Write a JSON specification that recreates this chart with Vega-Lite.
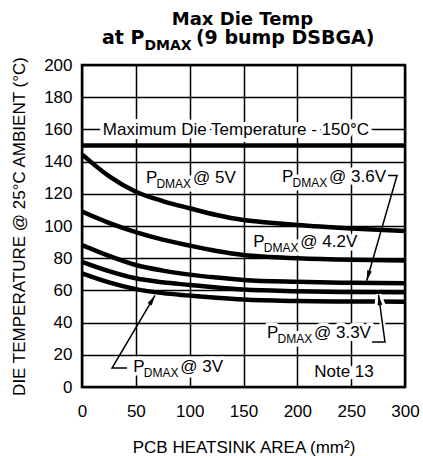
{
  "$schema": "https://vega.github.io/schema/vega-lite/v6.json",
  "width": 323,
  "height": 322,
  "autosize": {"type": "none"},
  "padding": {"left": 82, "top": 65, "right": 18, "bottom": 69},
  "background": "white",
  "config": {
    "view": {"stroke": "black", "strokeWidth": 2.5},
    "axis": {"grid": true, "gridColor": "black", "gridWidth": 1.5, "gridOpacity": 1, "ticks": false, "tickSize": 0, "domain": false, "labelFont": "Liberation Sans", "labelFontSize": 17, "labelColor": "black", "labelFlush": false, "labelOverlap": false, "titleFont": "Liberation Sans", "titleFontSize": 17, "titleFontWeight": "normal", "titleColor": "black"}
  },
  "datasets": {
    "curves": [
      {"series": "Max", "area": 0, "temp": 150}, {"series": "Max", "area": 300, "temp": 150},
      {"series": "5V", "area": 0, "temp": 144.5}, {"series": "5V", "area": 25, "temp": 131}, {"series": "5V", "area": 50, "temp": 121.3}, {"series": "5V", "area": 75, "temp": 115.5}, {"series": "5V", "area": 100, "temp": 111}, {"series": "5V", "area": 125, "temp": 106.8}, {"series": "5V", "area": 150, "temp": 103.7}, {"series": "5V", "area": 175, "temp": 102}, {"series": "5V", "area": 200, "temp": 100.6}, {"series": "5V", "area": 250, "temp": 98.5}, {"series": "5V", "area": 300, "temp": 96.9},
      {"series": "4.2V", "area": 0, "temp": 109}, {"series": "4.2V", "area": 25, "temp": 102}, {"series": "4.2V", "area": 50, "temp": 96.2}, {"series": "4.2V", "area": 75, "temp": 91.5}, {"series": "4.2V", "area": 100, "temp": 87.8}, {"series": "4.2V", "area": 125, "temp": 84.5}, {"series": "4.2V", "area": 150, "temp": 82}, {"series": "4.2V", "area": 175, "temp": 80.8}, {"series": "4.2V", "area": 200, "temp": 80}, {"series": "4.2V", "area": 250, "temp": 79}, {"series": "4.2V", "area": 300, "temp": 78.5},
      {"series": "3.6V", "area": 0, "temp": 88.2}, {"series": "3.6V", "area": 25, "temp": 81.5}, {"series": "3.6V", "area": 50, "temp": 75.8}, {"series": "3.6V", "area": 75, "temp": 72.3}, {"series": "3.6V", "area": 100, "temp": 69.8}, {"series": "3.6V", "area": 125, "temp": 68}, {"series": "3.6V", "area": 150, "temp": 66.5}, {"series": "3.6V", "area": 200, "temp": 65.3}, {"series": "3.6V", "area": 250, "temp": 64.7}, {"series": "3.6V", "area": 300, "temp": 64.4},
      {"series": "3.3V", "area": 0, "temp": 77.8}, {"series": "3.3V", "area": 25, "temp": 72}, {"series": "3.3V", "area": 50, "temp": 67.5}, {"series": "3.3V", "area": 75, "temp": 65}, {"series": "3.3V", "area": 100, "temp": 63.4}, {"series": "3.3V", "area": 125, "temp": 61.8}, {"series": "3.3V", "area": 150, "temp": 60.5}, {"series": "3.3V", "area": 200, "temp": 59.5}, {"series": "3.3V", "area": 250, "temp": 59}, {"series": "3.3V", "area": 300, "temp": 58.8},
      {"series": "3V", "area": 0, "temp": 70.6}, {"series": "3V", "area": 25, "temp": 65}, {"series": "3V", "area": 50, "temp": 60.8}, {"series": "3V", "area": 75, "temp": 58.3}, {"series": "3V", "area": 100, "temp": 56.8}, {"series": "3V", "area": 125, "temp": 55.4}, {"series": "3V", "area": 150, "temp": 54.3}, {"series": "3V", "area": 200, "temp": 53.4}, {"series": "3V", "area": 250, "temp": 53.1}, {"series": "3V", "area": 300, "temp": 53}
    ],
    "plabels": [
      {"p": "P", "sub": "DMAX", "volt": "@ 5V", "area": 59.4, "temp": 127},
      {"p": "P", "sub": "DMAX", "volt": "@ 3.6V", "area": 185.8, "temp": 127.3},
      {"p": "P", "sub": "DMAX", "volt": "@ 4.2V", "area": 159.1, "temp": 87},
      {"p": "P", "sub": "DMAX", "volt": "@ 3.3V", "area": 171.8, "temp": 30.2},
      {"p": "P", "sub": "DMAX", "volt": "@ 3V", "area": 47.6, "temp": 9.3}
    ],
    "notes": [
      {"note": "Maximum Die Temperature - 150°C", "area": 143, "temp": 156.4},
      {"note": "Note 13", "area": 243.3, "temp": 6.2}
    ],
    "arrows": [
      {"arrow": "3.6V", "seq": 1, "area": 284.2, "temp": 131.4}, {"arrow": "3.6V", "seq": 2, "area": 292.6, "temp": 131.4}, {"arrow": "3.6V", "seq": 3, "area": 264.4, "temp": 66},
      {"arrow": "3.3V", "seq": 1, "area": 269.4, "temp": 28}, {"arrow": "3.3V", "seq": 2, "area": 281.4, "temp": 28}, {"arrow": "3.3V", "seq": 3, "area": 275.4, "temp": 57.3},
      {"arrow": "3V", "seq": 1, "area": 41.8, "temp": 11.8}, {"arrow": "3V", "seq": 2, "area": 27.9, "temp": 11.8}, {"arrow": "3V", "seq": 3, "area": 67.8, "temp": 56.9}
    ],
    "heading": [{"line": "Max Die Temp", "area": 149, "temp": 224.6}],
    "subhead": [{"a": "at P", "b": "DMAX", "c": "(9 bump DSBGA)", "area": 18.5, "temp": 213.3}]
  },
  "encoding": {
    "x": {"field": "area", "type": "quantitative", "scale": {"domain": [0, 300], "nice": false, "zero": false},
      "axis": {"values": [0, 50, 100, 150, 200, 250, 300], "labelPadding": 16, "title": "PCB HEATSINK AREA (mm²)", "titlePadding": 20}},
    "y": {"field": "temp", "type": "quantitative", "scale": {"domain": [0, 200], "nice": false},
      "axis": {"values": [0, 20, 40, 60, 80, 100, 120, 140, 160, 180, 200], "labelPadding": 10, "title": "DIE TEMPERATURE @ 25°C AMBIENT (°C)", "titlePadding": 15}}
  },
  "layer": [
    {"data": {"name": "plabels"}, "mark": {"type": "text", "font": "Liberation Sans", "fontSize": 17, "align": "left", "baseline": "alphabetic", "fill": "white", "stroke": "white", "strokeWidth": 7, "strokeJoin": "round"}, "encoding": {"text": {"field": "p"}}},
    {"data": {"name": "plabels"}, "mark": {"type": "text", "font": "Liberation Sans", "fontSize": 12, "align": "left", "baseline": "alphabetic", "dx": 10.5, "dy": 5, "fill": "white", "stroke": "white", "strokeWidth": 7, "strokeJoin": "round"}, "encoding": {"text": {"field": "sub"}}},
    {"data": {"name": "plabels"}, "mark": {"type": "text", "font": "Liberation Sans", "fontSize": 17, "align": "left", "baseline": "alphabetic", "dx": 47, "fill": "white", "stroke": "white", "strokeWidth": 7, "strokeJoin": "round"}, "encoding": {"text": {"field": "volt"}}},
    {"data": {"name": "notes"}, "mark": {"type": "text", "font": "Liberation Sans", "fontSize": 17, "align": "center", "baseline": "alphabetic", "fill": "white", "stroke": "white", "strokeWidth": 8, "strokeJoin": "round"}, "encoding": {"text": {"field": "note"}}},
    {"data": {"name": "curves"}, "mark": {"type": "line", "interpolate": "monotone", "color": "black", "strokeWidth": 4.5, "clip": true}, "encoding": {"detail": {"field": "series"}}},
    {"data": {"name": "arrows"}, "transform": [{"filter": "datum.arrow == '3.3V' && datum.seq > 1"}], "mark": {"type": "line", "color": "white", "strokeWidth": 6}, "encoding": {"order": {"field": "seq"}}},
    {"data": {"name": "arrows"}, "transform": [{"filter": "datum.arrow == '3.3V' && datum.seq == 3"}], "mark": {"type": "point", "shape": "M0,0L-0.6,2.6L0.6,2.6Z", "size": 64, "filled": true, "fill": "white", "stroke": "white", "strokeWidth": 6, "opacity": 1, "angle": 352}, "encoding": {}},
    {"data": {"name": "arrows"}, "mark": {"type": "line", "color": "black", "strokeWidth": 1.5}, "encoding": {"detail": {"field": "arrow"}, "order": {"field": "seq"}}},
    {"data": {"name": "arrows"}, "transform": [{"filter": "datum.arrow == '3.6V' && datum.seq == 3"}], "mark": {"type": "point", "shape": "M0,0L-0.6,2.6L0.6,2.6Z", "size": 64, "filled": true, "color": "black", "opacity": 1, "angle": 196}, "encoding": {}},
    {"data": {"name": "arrows"}, "transform": [{"filter": "datum.arrow == '3.3V' && datum.seq == 3"}], "mark": {"type": "point", "shape": "M0,0L-0.6,2.6L0.6,2.6Z", "size": 64, "filled": true, "color": "black", "opacity": 1, "angle": 352}, "encoding": {}},
    {"data": {"name": "arrows"}, "transform": [{"filter": "datum.arrow == '3V' && datum.seq == 3"}], "mark": {"type": "point", "shape": "M0,0L-0.6,2.6L0.6,2.6Z", "size": 64, "filled": true, "color": "black", "opacity": 1, "angle": 31}, "encoding": {}},
    {"data": {"name": "plabels"}, "mark": {"type": "text", "font": "Liberation Sans", "fontSize": 17, "align": "left", "baseline": "alphabetic", "color": "black"}, "encoding": {"text": {"field": "p"}}},
    {"data": {"name": "plabels"}, "mark": {"type": "text", "font": "Liberation Sans", "fontSize": 12, "align": "left", "baseline": "alphabetic", "dx": 10.5, "dy": 5, "color": "black"}, "encoding": {"text": {"field": "sub"}}},
    {"data": {"name": "plabels"}, "mark": {"type": "text", "font": "Liberation Sans", "fontSize": 17, "align": "left", "baseline": "alphabetic", "dx": 47, "color": "black"}, "encoding": {"text": {"field": "volt"}}},
    {"data": {"name": "notes"}, "mark": {"type": "text", "font": "Liberation Sans", "fontSize": 17, "align": "center", "baseline": "alphabetic", "color": "black"}, "encoding": {"text": {"field": "note"}}},
    {"data": {"name": "heading"}, "mark": {"type": "text", "font": "DejaVu Sans", "fontWeight": "bold", "fontSize": 18, "align": "center", "baseline": "alphabetic", "color": "black", "clip": false}, "encoding": {"text": {"field": "line"}}},
    {"data": {"name": "subhead"}, "mark": {"type": "text", "font": "DejaVu Sans", "fontWeight": "bold", "fontSize": 19, "align": "left", "baseline": "alphabetic", "color": "black", "clip": false}, "encoding": {"text": {"field": "a"}}},
    {"data": {"name": "subhead"}, "mark": {"type": "text", "font": "DejaVu Sans", "fontWeight": "bold", "fontSize": 14, "align": "left", "baseline": "alphabetic", "dx": 42.5, "dy": 6, "color": "black", "clip": false}, "encoding": {"text": {"field": "b"}}},
    {"data": {"name": "subhead"}, "mark": {"type": "text", "font": "DejaVu Sans", "fontWeight": "bold", "fontSize": 19, "align": "left", "baseline": "alphabetic", "dx": 94, "color": "black", "clip": false}, "encoding": {"text": {"field": "c"}}}
  ]
}
